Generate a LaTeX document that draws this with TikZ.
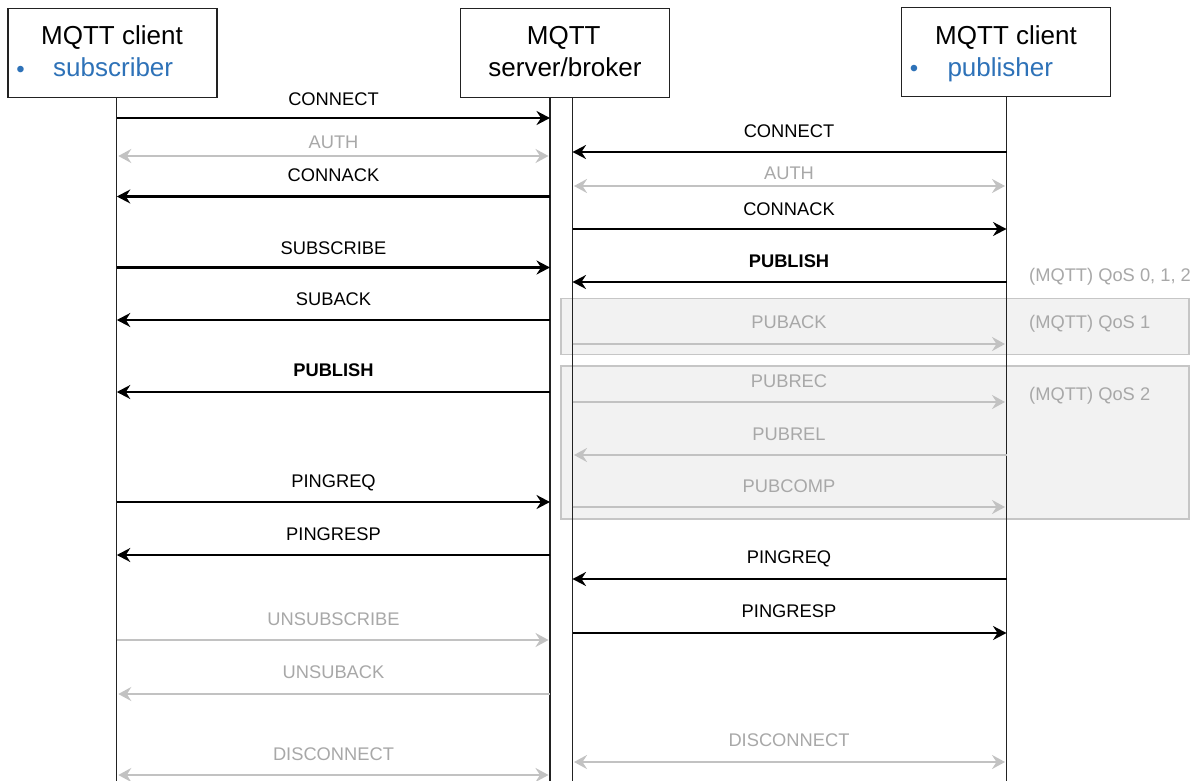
\documentclass[tikz,border=0pt]{standalone}
\usepackage{fontspec}
\setmainfont{Liberation Sans}
\usetikzlibrary{arrows.meta}
\definecolor{frame}{HTML}{222222}
\definecolor{roleblue}{HTML}{2E72B8}
\definecolor{optline}{HTML}{C2C2C2}
\definecolor{opttext}{HTML}{A8A8A8}
\definecolor{qosfill}{HTML}{F2F2F2}
\definecolor{qosline}{HTML}{C6C6C6}

\begin{document}
\begin{tikzpicture}[x=1pt,y=-1pt,
  actor/.style={draw=frame,line width=1.3pt,fill=white,minimum width=209pt,minimum height=89pt,inner sep=0pt},
  head/.style={font=\fontsize{26}{30}\selectfont,anchor=base,inner sep=0pt},
  role/.style={font=\fontsize{26}{30}\selectfont,text=roleblue,anchor=base west,inner sep=0pt},
  dot/.style={font=\fontsize{24}{28}\selectfont,text=roleblue,anchor=base,inner sep=0pt},
  lifeline/.style={draw=frame,line width=1.2pt},
  tip/.style={},
  msg/.style={draw=black,line width=2.2pt,-{Stealth[length=13.5pt,width=14pt,inset=4.5pt]}},
  optmsg/.style={draw=optline,line width=2.8pt,-{Stealth[length=13pt,width=14pt,inset=4.5pt]},shorten >=1.5pt},
  optboth/.style={draw=optline,line width=2.8pt,{Stealth[length=13pt,width=14pt,inset=4.5pt]}-{Stealth[length=13pt,width=14pt,inset=4.5pt]},shorten >=1.5pt,shorten <=1.5pt},
  lbl/.style={font=\fontsize{18.3}{22}\selectfont,anchor=base,inner sep=0pt},
  optlbl/.style={lbl,text=opttext},
  qosbox/.style={draw=qosline,fill=qosfill,line width=1.4pt},
  qoslbl/.style={font=\fontsize{18.3}{22}\selectfont,text=opttext,anchor=base west,inner sep=0pt}
]
\fill[white] (0,0) rectangle (1201,781);
\useasboundingbox (0,0) rectangle (1201,781);

% QoS groups behind the broker/publisher exchange
\draw[qosbox] (561,298.5) rectangle (1189,354.5);
\draw[qosbox] (561,366) rectangle (1189,519);
\node[qoslbl] (q012) at (1029,281.7) {(MQTT) QoS 0, 1, 2};
\node[qoslbl] (q1) at (1029,328.3) {(MQTT) QoS 1};
\node[qoslbl] (q2) at (1029,400.7) {(MQTT) QoS 2};

% participants
\node[actor] (sub) at (112.5,52.8) {};
\node[actor] (brk) at (564.8,52.8) {};
\node[actor] (pub) at (1006.2,52) {};

\node[head] (subT) at (112,45) {MQTT client};
\node[dot] (subD) at (20.7,78) {•};
\node[role] (subR) at (53,76.7) {subscriber};

\node[head] (brkT) at (563.7,45) {MQTT};
\node[head] (brkS) at (565,76.5) {server/broker};

\node[head] (pubT) at (1006,45) {MQTT client};
\node[dot] (pubD) at (914,77) {•};
\node[role] (pubR) at (947.3,76.7) {publisher};

% lifelines
\coordinate (sL) at (116.8,97.3);
\coordinate (bL) at (550,97.3);
\coordinate (bR) at (572.5,97.3);
\coordinate (pL) at (1006.5,96.7);
\draw[lifeline] (sL) -- (sL |- 0,781);
\draw[lifeline] (bL) -- (bL |- 0,781);
\draw[lifeline] (bR) -- (bR |- 0,781);
\draw[lifeline] (pL) -- (pL |- 0,781);

% subscriber <-> broker
\node[lbl] (m1) at (333.5,106) {CONNECT};
\draw[msg] (sL |- 0,118) -- (bL |- 0,118);
\node[optlbl] (m2) at (333.5,148) {AUTH};
\draw[optboth] (sL |- 0,156) -- (bL |- 0,156);
\node[lbl] (m3) at (333.5,181.5) {CONNACK};
\draw[msg] (bL |- 0,196.5) -- (sL |- 0,196.5);
\node[lbl] (m4) at (333.5,254) {SUBSCRIBE};
\draw[msg] (sL |- 0,267.5) -- (bL |- 0,267.5);
\node[lbl] (m5) at (333.5,305) {SUBACK};
\draw[msg] (bL |- 0,320) -- (sL |- 0,320);
\node[lbl] (m6) at (333.5,376) {\textbf{PUBLISH}};
\draw[msg] (bL |- 0,392) -- (sL |- 0,392);
\node[lbl] (m7) at (333.5,487) {PINGREQ};
\draw[msg] (sL |- 0,502) -- (bL |- 0,502);
\node[lbl] (m8) at (333.5,540) {PINGRESP};
\draw[msg] (bL |- 0,555) -- (sL |- 0,555);
\node[optlbl] (m9) at (333.5,625) {UNSUBSCRIBE};
\draw[optmsg] (sL |- 0,640) -- (bL |- 0,640);
\node[optlbl] (m10) at (333.5,678.5) {UNSUBACK};
\draw[optmsg] (bL |- 0,694) -- (sL |- 0,694);
\node[optlbl] (m11) at (333.5,760) {DISCONNECT};
\draw[optboth] (sL |- 0,775) -- (bL |- 0,775);

% broker <-> publisher
\node[lbl] (n1) at (789,137) {CONNECT};
\draw[msg] (pL |- 0,152) -- (bR |- 0,152);
\node[optlbl] (n2) at (789,179.5) {AUTH};
\draw[optboth] (bR |- 0,186) -- (pL |- 0,186);
\node[lbl] (n3) at (789,215) {CONNACK};
\draw[msg] (bR |- 0,229) -- (pL |- 0,229);
\node[lbl] (n4) at (789,267) {\textbf{PUBLISH}};
\draw[msg] (pL |- 0,282) -- (bR |- 0,282);
\node[optlbl] (n5) at (789,328) {PUBACK};
\draw[optmsg] (bR |- 0,344) -- (pL |- 0,344);
\node[optlbl] (n6) at (789,387) {PUBREC};
\draw[optmsg] (bR |- 0,402) -- (pL |- 0,402);
\node[optlbl] (n7) at (789,440) {PUBREL};
\draw[optmsg] (pL |- 0,455) -- (bR |- 0,455);
\node[optlbl] (n8) at (789,492) {PUBCOMP};
\draw[optmsg] (bR |- 0,507) -- (pL |- 0,507);
\node[lbl] (n9) at (789,563) {PINGREQ};
\draw[msg] (pL |- 0,579) -- (bR |- 0,579);
\node[lbl] (n10) at (789,617) {PINGRESP};
\draw[msg] (bR |- 0,633) -- (pL |- 0,633);
\node[optlbl] (n11) at (789,746) {DISCONNECT};
\draw[optboth] (bR |- 0,762) -- (pL |- 0,762);
\end{tikzpicture}
\end{document}
